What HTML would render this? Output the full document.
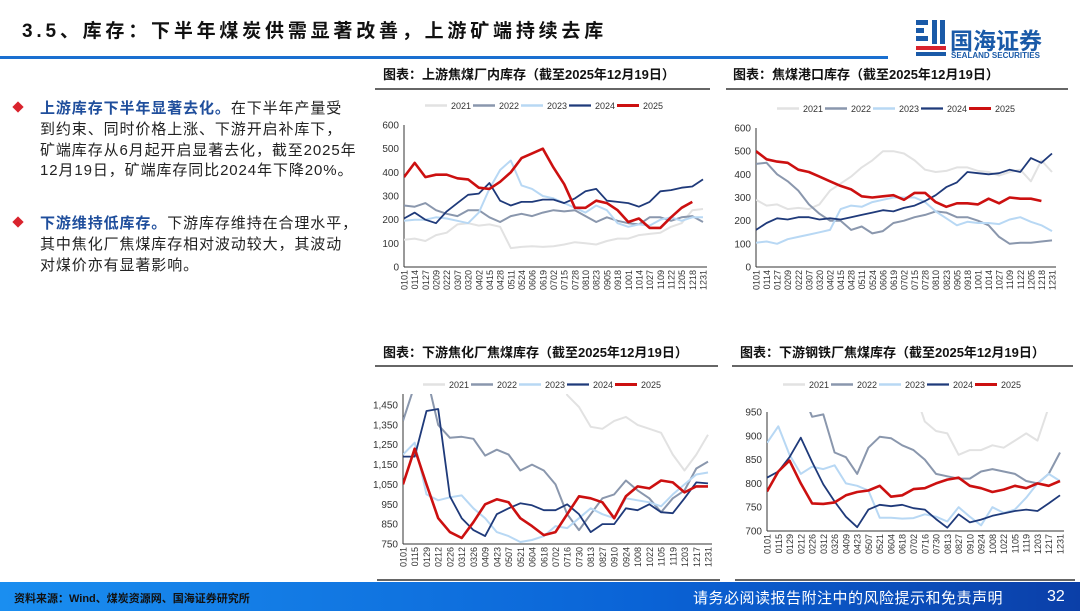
<!DOCTYPE html>
<html><head><meta charset="utf-8">
<style>
body{margin:0;width:1080px;height:611px;overflow:hidden;background:#fff;font-family:"Liberation Sans","Noto Sans CJK SC",sans-serif;position:relative}
.abs{position:absolute;white-space:nowrap}
#title{left:22px;top:16px;font-size:19px;font-weight:bold;letter-spacing:3.8px;color:#111}
.tx{left:40px;font-size:15px;letter-spacing:0.9px;color:#222}
.b{color:#1f4e9c;font-weight:bold}
.dia{left:14px;width:8px;height:8px;background:#d9232d;transform:rotate(45deg)}
#footer{left:0;top:582px;width:1080px;height:29px;background:linear-gradient(90deg,#1a8ef0,#0a63d6 60%,#0b3fa8)}
</style></head><body>
<div class="abs" id="title">3.5、库存：下半年煤炭供需显著改善，上游矿端持续去库</div>
<div class="abs" style="left:0;top:56px;width:888px;height:3px;background:#1a6fd0"></div>
<div class="abs" style="left:914px;top:18px;width:150px;height:44px">
<svg width="34" height="40" viewBox="0 0 34 40"><rect x="2" y="2" width="12" height="5" fill="#1a5aa8"/><rect x="2" y="10" width="8" height="5" fill="#1a5aa8"/><rect x="2" y="18" width="12" height="5" fill="#1a5aa8"/><rect x="18" y="2" width="5" height="24" fill="#1a5aa8"/><rect x="26" y="2" width="5" height="24" fill="#1a5aa8"/><rect x="2" y="28" width="30" height="4" fill="#d9232d"/><rect x="2" y="34" width="30" height="4" fill="#1a5aa8"/></svg>
<span class="abs" style="left:36px;top:4px;font-size:23px;font-weight:bold;color:#1a5aa8">国海证券</span>
<span class="abs" style="left:37px;top:33px;font-size:8px;font-weight:bold;color:#1a5aa8">SEALAND SECURITIES</span>
</div>

<div class="abs dia" style="top:103px"></div>
<div class="abs tx" style="top:97px"><span class="b">上游库存下半年显著去化。</span>在下半年产量受</div>
<div class="abs tx" style="top:118px">到约束、同时价格上涨、下游开启补库下，</div>
<div class="abs tx" style="top:139px">矿端库存从6月起开启显著去化，截至2025年</div>
<div class="abs tx" style="top:159px">12月19日，矿端库存同比2024年下降20%。</div>
<div class="abs dia" style="top:218px"></div>
<div class="abs tx" style="top:212px"><span class="b">下游维持低库存。</span>下游库存维持在合理水平，</div>
<div class="abs tx" style="top:233px">其中焦化厂焦煤库存相对波动较大，其波动</div>
<div class="abs tx" style="top:254px">对煤价亦有显著影响。</div>

<svg id="charts" class="abs" style="left:0;top:0" width="1080" height="611"></svg>

<div class="abs" id="footer">
<span class="abs" style="left:14px;top:8px;font-size:11px;font-weight:bold;color:#111">资料来源：Wind、煤炭资源网、国海证券研究所</span>
<span class="abs" style="left:693px;top:5px;font-size:15px;color:#fff;letter-spacing:0.5px">请务必阅读报告附注中的风险提示和免责声明</span>
<span class="abs" style="left:1047px;top:6px;font-size:16px;color:#fff">32</span>
</div>

<script>
const labelsA=["0101","0114","0127","0209","0222","0307","0320","0402","0415","0428","0511","0524","0606","0619","0702","0715","0728","0810","0823","0905","0918","1001","1014","1027","1109","1122","1205","1218","1231"];
const labelsB=["0101","0115","0129","0212","0226","0312","0326","0409","0423","0507","0521","0604","0618","0702","0716","0730","0813","0827","0910","0924","1008","1022","1105","1119","1203","1217","1231"];
const years=["2021","2022","2023","2024","2025"];
// Chart 1: 上游焦煤厂内库存
const c1_2021=[115,120,110,135,145,180,185,175,180,170,80,85,88,85,88,95,105,100,95,110,120,120,135,140,145,170,185,240,245];
const c1_2022=[260,255,270,240,225,215,240,240,210,190,215,225,215,230,240,235,240,215,190,210,195,185,180,210,210,195,210,215,190];
const c1_2023=[195,200,200,210,205,195,185,230,330,410,450,345,330,300,290,270,250,230,260,240,185,170,180,175,200,210,195,210,210];
const c1_2024=[205,230,200,185,235,270,305,310,355,280,260,275,275,285,285,270,290,320,330,280,275,270,255,275,320,325,335,340,370];
const c1_2025=[380,440,380,390,390,375,370,335,330,360,400,460,480,500,420,350,250,250,280,270,240,190,205,165,165,210,250,275];
// Chart 2: 焦煤港口库存
const c2_2021=[290,265,270,250,255,250,270,330,360,390,430,460,500,500,490,460,420,410,415,430,430,415,410,395,410,420,370,460,410];
const c2_2022=[445,450,400,370,330,270,230,200,200,160,175,145,155,190,200,215,225,240,235,215,215,200,180,130,100,105,105,110,115];
const c2_2023=[105,110,100,120,130,140,150,160,250,265,260,280,290,300,300,300,280,240,210,180,195,190,190,185,205,215,195,180,155];
const c2_2024=[160,190,210,205,215,215,205,210,205,215,225,235,245,240,255,265,285,310,345,365,410,405,400,405,420,410,470,450,490];
const c2_2025=[500,465,455,450,420,410,390,370,350,335,305,300,305,310,290,320,320,280,260,275,275,270,295,275,300,295,295,285];
// Chart 3: 下游焦化厂焦煤库存
const c3_2021=[1700,1700,1700,1700,1700,1700,1700,1700,1700,1700,1700,1700,1700,1700,1500,1440,1340,1330,1370,1390,1350,1330,1310,1200,1120,1200,1300];
const c3_2022=[1370,1550,1600,1350,1285,1290,1280,1195,1225,1200,1120,1150,1120,1050,900,820,900,980,1000,1070,1020,980,910,980,1020,1130,1165];
const c3_2023=[1200,1260,1000,970,985,995,930,880,810,790,760,770,790,840,830,880,930,900,880,980,970,960,940,1000,1050,1100,1110];
const c3_2024=[1190,1190,1420,1430,990,880,820,790,900,930,955,945,920,920,950,900,810,850,850,930,920,950,910,905,980,1060,1055];
const c3_2025=[1050,1230,1050,880,810,780,860,950,975,960,880,840,795,810,900,990,980,960,880,990,1040,1030,1070,1060,1010,1040,1040];
// Chart 4: 下游钢铁厂焦煤库存
const c4_2021=[1000,1000,1000,1000,1000,1000,1000,1000,1000,1000,1000,1000,1000,1000,930,910,905,860,870,870,880,875,890,905,890,960,1000];
const c4_2022=[1000,1000,1000,1000,940,945,865,855,820,875,898,895,880,870,850,820,815,810,810,825,830,825,820,805,800,820,865];
const c4_2023=[885,920,860,820,835,830,838,800,795,785,728,728,726,727,735,730,720,750,730,712,750,738,745,770,800,820,805];
const c4_2024=[812,825,855,896,845,798,762,730,708,745,755,752,755,748,745,725,707,735,718,724,732,737,742,745,742,758,775];
const c4_2025=[783,825,848,800,758,757,760,775,782,785,795,772,775,788,790,800,808,812,795,790,782,787,795,790,800,795,805];

const colors=["#e2e2e2","#8a97ad","#b8d8f4","#1f3a7a","#cc1010"];
const widths=[2,2,2,1.8,2.6];
const NS="http://www.w3.org/2000/svg";
const svg=document.getElementById('charts');
function mk(tag,attrs,parent){const e=document.createElementNS(NS,tag);for(const k in attrs)e.setAttribute(k,attrs[k]);(parent||svg).appendChild(e);return e;}

const charts=[
 {id:1,title:"图表：上游焦煤厂内库存（截至2025年12月19日）",tx:383,ty:79,ul:[375,710,89],leg:[451,109],x0:404,x1:703,ytop:125,ybot:267,vmin:0,vmax:600,ticks:[0,100,200,300,400,500,600],fmt:v=>String(v),labels:labelsA,series:[c1_2021,c1_2022,c1_2023,c1_2024,c1_2025],clipTop:125},
 {id:2,title:"图表：焦煤港口库存（截至2025年12月19日）",tx:733,ty:79,ul:[726,1068,89],leg:[803,112],x0:756,x1:1052,ytop:128,ybot:267,vmin:0,vmax:600,ticks:[0,100,200,300,400,500,600],fmt:v=>String(v),labels:labelsA,series:[c2_2021,c2_2022,c2_2023,c2_2024,c2_2025],clipTop:128},
 {id:3,title:"图表：下游焦化厂焦煤库存（截至2025年12月19日）",tx:383,ty:357,ul:[375,718,366],leg:[449,388],x0:403,x1:708,ytop:405,ybot:544,vmin:750,vmax:1450,ticks:[750,850,950,1050,1150,1250,1350,1450],fmt:v=>v>=1000?(Math.floor(v/1000)+","+String(v%1000).padStart(3,"0")):String(v),labels:labelsB,series:[c3_2021,c3_2022,c3_2023,c3_2024,c3_2025],clipTop:394},
 {id:4,title:"图表：下游钢铁厂焦煤库存（截至2025年12月19日）",tx:740,ty:357,ul:[732,1073,366],leg:[809,388],x0:767,x1:1060,ytop:412,ybot:531,vmin:700,vmax:950,ticks:[700,750,800,850,900,950],fmt:v=>String(v),labels:labelsB,series:[c4_2021,c4_2022,c4_2023,c4_2024,c4_2025],clipTop:412}
];

charts.forEach(c=>{
 const g=mk('g',{});
 
 
 const t=mk('text',{x:c.tx,y:c.ty,'font-size':13,'font-weight':'bold',fill:'#111'},g);t.textContent=c.title;
 
 
 const ul=mk('line',{x1:c.ul[0],x2:c.ul[1],y1:c.ul[2],y2:c.ul[2],stroke:'#333','stroke-width':1.5},g);
 
 
 const yS=v=>c.ybot-(v-c.vmin)/(c.vmax-c.vmin)*(c.ybot-c.ytop);
 const n=c.labels.length;
 const xS=i=>c.x0+i/(n-1)*(c.x1-c.x0);
 const ya=mk('line',{x1:c.x0,x2:c.x0,y1:c.clipTop,y2:c.ybot,stroke:'#333','stroke-width':1},g);
 
 
 const xa=mk('line',{x1:c.x0,x2:c.x1+4,y1:c.ybot,y2:c.ybot,stroke:'#333','stroke-width':1},g);
 
 
 c.ticks.forEach(v=>{
  const tl=mk('text',{x:c.x0-5,y:yS(v)+3.5,'font-size':10,'text-anchor':'end',fill:'#333'},g);tl.textContent=c.fmt(v);
  
  
 });
 c.labels.forEach((l,i)=>{
  const x=xS(i),y=c.ybot+3;
  const tl=mk('text',{x:x+3.5,y:y,'font-size':9,'text-anchor':'end',fill:'#333',transform:`rotate(-90 ${x+3.5} ${y})`},g);tl.textContent=l;
  
  
 });
 const cp=mk('clipPath',{id:'cp'+c.id},g);
 mk('rect',{x:c.x0,y:c.clipTop,width:c.x1-c.x0+6,height:c.ybot-c.clipTop},cp);
 c.series.forEach((s,k)=>{
  const d=s.map((v,i)=>(i?'L':'M')+xS(i).toFixed(1)+','+yS(v).toFixed(1)).join(' ');
  const p=mk('path',{d:d,fill:'none',stroke:colors[k],'stroke-width':widths[k],'stroke-linejoin':'round','clip-path':`url(#cp${c.id})`},g);
  
  
 });
 let lx=c.leg[0];
 years.forEach((y,k)=>{
  const ll=mk('line',{x1:lx-26,x2:lx-4,y1:c.leg[1]-3.5,y2:c.leg[1]-3.5,stroke:colors[k],'stroke-width':widths[k]+0.4},g);
  
  
  const lt=mk('text',{x:lx,y:c.leg[1],'font-size':9,fill:'#333'},g);lt.textContent=y;
  
  
  lx+=48;
 });
});
[[377,720],[735,1075]].forEach(r=>{
 const l=mk('line',{x1:r[0],x2:r[1],y1:580,y2:580,stroke:'#333','stroke-width':1.5});
 
 
});
</script>
</body></html>
